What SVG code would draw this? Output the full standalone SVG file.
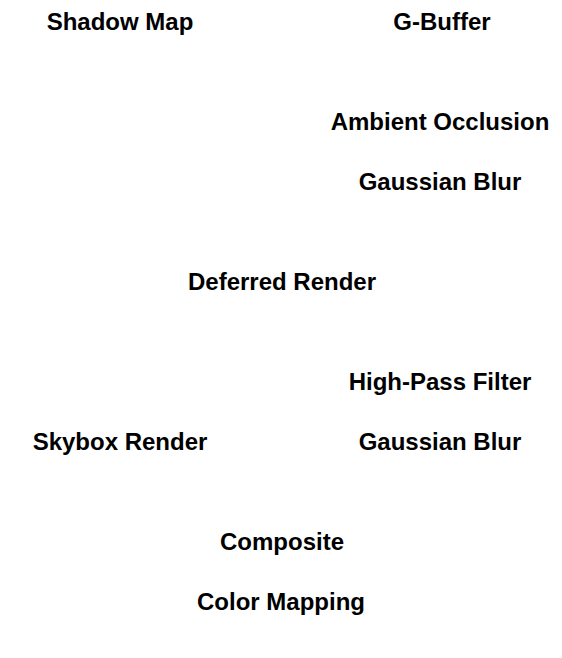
<svg xmlns="http://www.w3.org/2000/svg" width="562" height="658" viewBox="0 0 562 658">
<style>
text{font-family:"Liberation Sans",Arial,sans-serif;font-weight:bold;font-size:24px;fill:#000;text-anchor:middle;dominant-baseline:central}
</style>
<rect width="562" height="658" fill="#fff"/>
<g id="connectors"></g>
<g id="shadow-map"><text x="120" y="21">Shadow Map</text></g>
<g id="g-buffer"><text x="442" y="21">G-Buffer</text></g>
<g id="ambient-occlusion"><text x="440" y="121">Ambient Occlusion</text></g>
<g id="gaussian-blur-1"><text x="440" y="181">Gaussian Blur</text></g>
<g id="deferred-render"><text x="282" y="281">Deferred Render</text></g>
<g id="high-pass-filter"><text x="440" y="381">High-Pass Filter</text></g>
<g id="skybox-render"><text x="120" y="441">Skybox Render</text></g>
<g id="gaussian-blur-2"><text x="440" y="441">Gaussian Blur</text></g>
<g id="composite"><text x="282" y="541">Composite</text></g>
<g id="color-mapping"><text x="281" y="601">Color Mapping</text></g>
</svg>
